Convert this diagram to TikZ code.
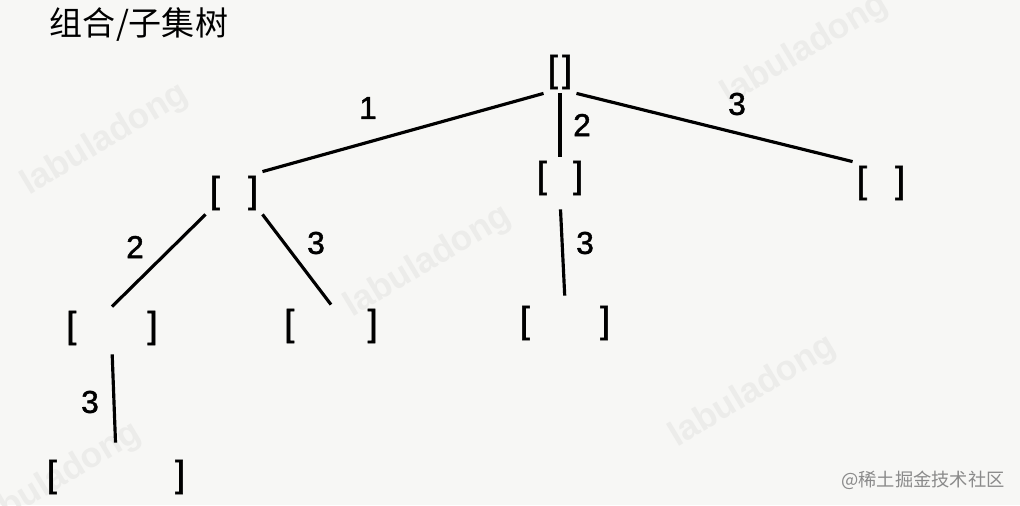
\documentclass[tikz,border=0pt]{standalone}
\usepackage{fontspec}
\setmainfont{Liberation Sans}
\newfontfamily\cjk{Noto Sans CJK SC}
\newfontfamily\brfont[FakeBold=1.5]{Liberation Sans}
\definecolor{paper}{HTML}{F7F7F5}
\definecolor{wmark}{HTML}{ECECEA}
\definecolor{sitegray}{HTML}{8A8A8A}
\newcommand{\brk}[1]{[\hspace{#1}]}

\begin{document}
\begin{tikzpicture}[
    bracket/.style={inner sep=1pt, font=\brfont\fontsize{10.5}{12}\selectfont},
    lbl/.style={inner sep=0pt, font=\brfont\fontsize{9}{10}\selectfont},
    branch/.style={line width=0.9pt},
    wm/.style={wmark, rotate=31, font=\bfseries\fontsize{10}{12}\selectfont}
  ]
  		% Background
  		\fill[paper] (0,0) rectangle (10.2,5.05);
  		\useasboundingbox (0,0) rectangle (10.2,5.05);
  		\begin{scope}
  			\clip (0,0) rectangle (10.2,5.05);
  			\node[wm] (wm1) at (1.05,3.65) {labuladong};
  			\node[wm] (wm2) at (8.05,4.55) {labuladong};
  			\node[wm] (wm3) at (4.28,2.43) {labuladong};
  			\node[wm] (wm4) at (7.53,1.13) {labuladong};
  			\node[wm] (wm5) at (0.58,0.26) {labuladong};
  		\end{scope}
  		
  		% Title
  		\node[font=\cjk\fontsize{9.4}{11}\selectfont] (title) at (1.39,4.80) {组合/子集树};
  		
  		% Nodes
  		\node[bracket] (root) at (5.60,4.33) {\brk{0.04cm}};
  		\node[bracket] (a) at (2.34,3.12) {\brk{0.28cm}};
  		\node[bracket] (b) at (5.60,3.27) {\brk{0.26cm}};
  		\node[bracket] (c) at (8.81,3.22) {\brk{0.28cm}};
  		\node[bracket] (ab) at (1.12,1.77) {\brk{0.71cm}};
  		\node[bracket] (ac) at (3.31,1.79) {\brk{0.73cm}};
  		\node[bracket] (bc) at (5.65,1.82) {\brk{0.70cm}};
  		\node[bracket] (abc) at (1.16,0.28) {\brk{1.18cm}};
  		
  		% Edges
  		\draw[branch] (root.south west) -- (a.north east);
  		\draw[branch] (root.south) -- (b.north);
  		\draw[branch] (root.south east) -- (c.north west);
  		\draw[branch] (a.south west) -- (ab.north);
  		\draw[branch] (a.south east) -- (ac.north);
  		\draw[branch, shorten <=0.1cm, shorten >=0.06cm] (b.south) -- (bc.north);
  		\draw[branch, shorten <=0.05cm, shorten >=0.13cm] (ab.south) -- (abc.north);
  		
  		% Edge labels
  		\node[lbl] (l1) at (3.68,3.97) {1};
  		\node[lbl] (l2) at (5.82,3.80) {2};
  		\node[lbl] (l3) at (7.37,4.01) {3};
  		\node[lbl] (l12) at (1.35,2.58) {2};
  		\node[lbl] (l13) at (3.16,2.62) {3};
  		\node[lbl] (l23) at (5.85,2.62) {3};
  		\node[lbl] (l123) at (0.90,1.03) {3};
  		
  		% Site mark
  		\node[sitegray, inner sep=0pt, font=\cjk\fontsize{5.2}{6}\selectfont] (site) at (9.23,0.25) {@稀土掘金技术社区};
  	\end{tikzpicture}
\end{document}
